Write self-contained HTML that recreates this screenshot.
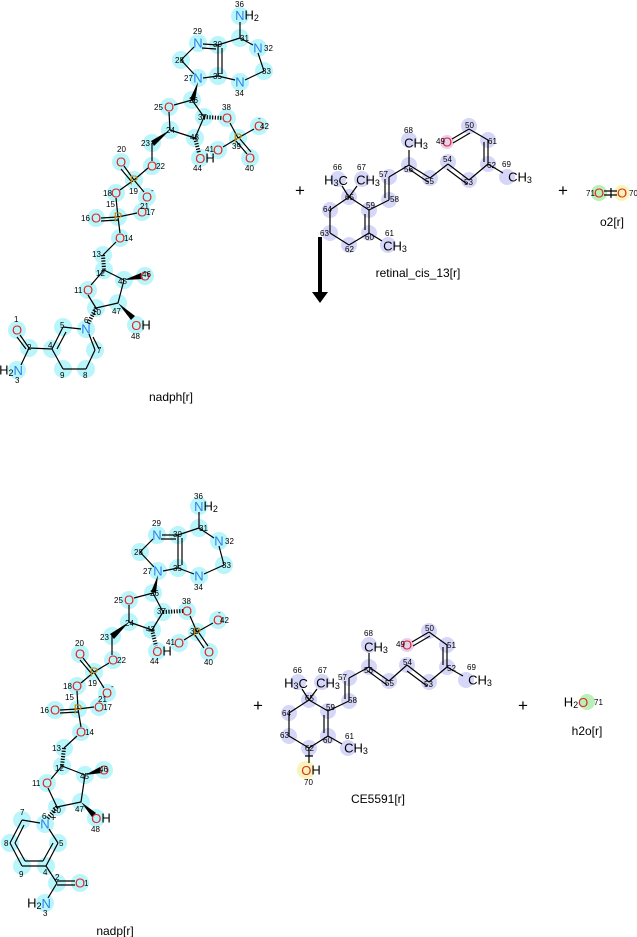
<!DOCTYPE html>
<html><head><meta charset="utf-8"><style>
html,body{margin:0;padding:0;background:#fff;width:637px;height:937px;overflow:hidden}
svg{display:block}
.b{stroke:#000;stroke-width:1.2;fill:none}
.hb{stroke:#000;stroke-width:4px;stroke-dasharray:1.2 1.5;fill:none}
.c{fill:#b8f6fb}
.l{fill:#d6d6f8}
text{font-family:"Liberation Sans","DejaVu Sans",sans-serif}
.e{font-size:13px;text-anchor:middle;dominant-baseline:central}
.s{font-size:8px;fill:#000}
.N{fill:#2d7ff0}.O{fill:#e02828}.P{fill:#c88a10}
.lab{font-size:12px;text-anchor:middle;fill:#000}
.pl{font-size:17px;text-anchor:middle;fill:#000}
</style></head><body>
<svg width="637" height="937" viewBox="0 0 637 937" xmlns="http://www.w3.org/2000/svg">
<!-- ===== NADPH top ===== -->
<g>
<g class="c">
<circle cx="240" cy="16" r="9"/><circle cx="240" cy="38" r="9"/><circle cx="218" cy="45" r="9"/><circle cx="198" cy="43" r="9"/><circle cx="181" cy="60" r="9"/><circle cx="198" cy="78" r="9"/><circle cx="218" cy="76" r="9"/><circle cx="258" cy="48" r="9"/><circle cx="264" cy="71" r="9"/><circle cx="240" cy="82" r="9"/><circle cx="192" cy="100" r="9"/><circle cx="169" cy="107" r="9"/><circle cx="204" cy="117" r="9"/><circle cx="227" cy="118" r="9"/><circle cx="238" cy="138" r="9"/><circle cx="259" cy="126" r="9"/><circle cx="250" cy="158" r="9"/><circle cx="218" cy="150" r="9"/><circle cx="170" cy="130" r="9"/><circle cx="195" cy="138" r="9"/><circle cx="200" cy="158" r="9"/><circle cx="152" cy="143" r="9"/><circle cx="152" cy="166" r="9"/><circle cx="134" cy="180" r="9"/><circle cx="121" cy="162" r="9"/><circle cx="147" cy="197" r="9"/><circle cx="116" cy="193" r="9"/><circle cx="118" cy="217" r="9"/><circle cx="96" cy="218" r="9"/><circle cx="142" cy="212" r="9"/><circle cx="120" cy="238" r="9"/><circle cx="103" cy="255" r="9"/><circle cx="104" cy="270" r="9"/><circle cx="124" cy="280" r="9"/><circle cx="145" cy="276" r="9"/><circle cx="88" cy="290" r="9"/><circle cx="96" cy="308" r="9"/><circle cx="118" cy="303" r="9"/><circle cx="136" cy="325" r="9"/><circle cx="17" cy="330" r="9"/><circle cx="29" cy="348" r="9"/><circle cx="52" cy="349" r="9"/><circle cx="17" cy="370" r="9"/><circle cx="63" cy="369" r="9"/><circle cx="86" cy="369" r="9"/><circle cx="63" cy="327" r="9"/><circle cx="86" cy="329" r="9"/><circle cx="95" cy="350" r="9"/>
</g>
<path class="b" d="M240 22V38 M240 38L218 45 M240 38L253 45 M258 53L264 71 M264 71L245 80 M235 80L218 76 M218 76L218 45 M222 74L222 48 M218 45L203 44 M216 49L202 48 M194 47L181 60 M181 60L194 74 M203 78L218 76
M174 105L192 100 M192 100L204 117 M204 117L195 138 M195 138L170 130 M170 130L169 112 M230 123L238 138 M238 138L254 129 M238 138L223 147 M236 141L247 154 M240 139L251 152
M152 143V161 M148 168L134 180 M134 180L124 166 M131 181L121 169 M134 180L144 192 M134 180L120 190 M116 198L118 217 M118 217L101 218 M118 220L101 221 M118 217L137 213 M118 217L120 233 M116 242L103 255
M104 270L91 285 M88 295L96 308 M96 308L118 303 M118 303L124 280 M124 280L104 270
M63 327L81 329 M89 334L95 350 M93 337L99 349 M95 350L86 369 M86 369L63 369 M63 369L52 349 M52 349L63 327 M57 349L66 332 M52 349L29 348 M29 348L20 335 M26 349L17 337 M29 348L21 365"/>
<g fill="#000">
<polygon points="198,82 190,99 195,101"/><polygon points="170,130 151,141 154,146"/><polygon points="124,280 141,273 143,279"/><polygon points="118,303 131,320 135,316"/>
</g>
<path class="hb" d="M204 117L223 118 M195 138L199 153 M103 255L104 270 M96 308L88 324"/>
<g class="e">
<text x="247" y="15" fill="#000"><tspan class="N">N</tspan>H<tspan font-size="9" dy="3">2</tspan></text>
<text x="198" y="43" class="N">N</text><text x="258" y="48" class="N">N</text><text x="198" y="78" class="N">N</text><text x="240" y="82" class="N">N</text>
<text x="169" y="107" class="O">O</text><text x="227" y="118" class="O">O</text><text x="259" y="126" class="O">O</text><text x="250" y="158" class="O">O</text><text x="218" y="150" class="O">O</text>
<text x="238" y="138" class="P">P</text>
<text x="205" y="158"><tspan class="O">O</tspan>H</text>
<text x="152" y="166" class="O">O</text><text x="121" y="162" class="O">O</text><text x="147" y="197" class="O">O</text><text x="116" y="193" class="O">O</text><text x="134" y="180" class="P">P</text>
<text x="118" y="217" class="P">P</text><text x="96" y="218" class="O">O</text><text x="142" y="212" class="O">O</text><text x="120" y="238" class="O">O</text>
<text x="88" y="290" class="O">O</text><text x="145" y="276" class="O">O</text><text x="141" y="325"><tspan class="O">O</tspan>H</text>
<text x="86" y="329" class="N">N</text><text x="17" y="330" class="O">O</text>
<text x="11" y="370">H<tspan font-size="9" dy="3">2</tspan><tspan class="N" dy="-3">N</tspan></text>
</g>
<g class="s">
<text x="235" y="7">36</text><text x="240" y="41">31</text><text x="193" y="34">29</text><text x="213" y="47">30</text><text x="264" y="51">32</text><text x="175" y="63">28</text><text x="262" y="74">33</text><text x="184" y="81">27</text><text x="213" y="79">35</text><text x="235" y="96">34</text><text x="189" y="103">26</text><text x="154" y="110">25</text><text x="198" y="120">37</text><text x="222" y="110">38</text><text x="260" y="129">42</text><text x="258" y="121">-</text><text x="166" y="133">24</text><text x="190" y="140">43</text><text x="232" y="149">39</text><text x="205" y="152">41</text><text x="245" y="171">40</text><text x="193" y="171">44</text><text x="141" y="146">23</text><text x="156" y="169">22</text><text x="117" y="152">20</text><text x="129" y="194">19</text><text x="151" y="193">-</text><text x="103" y="196">18</text><text x="106" y="207">15</text><text x="81" y="221">16</text><text x="146" y="215">17</text><text x="140" y="209">21</text><text x="124" y="241">14</text><text x="92" y="257">13</text><text x="96" y="276">12</text><text x="118" y="284">45</text><text x="142" y="277">46</text><text x="74" y="293">11</text><text x="92" y="315">10</text><text x="112" y="314">47</text><text x="131" y="339">48</text><text x="84" y="323">6</text><text x="60" y="328">5</text><text x="97" y="353">7</text><text x="83" y="378">8</text><text x="60" y="378">9</text><text x="48" y="348">4</text><text x="27" y="350">2</text><text x="14" y="322">1</text><text x="15" y="383">3</text>
</g>
<text x="171" y="401" class="lab">nadph[r]</text>
</g>

<!-- plus signs & arrow -->
<text x="300" y="196" class="pl">+</text><text x="563" y="196" class="pl">+</text><text x="258" y="711" class="pl">+</text><text x="523" y="711" class="pl">+</text>
<rect x="318" y="237" width="4" height="56" fill="#000"/><polygon points="312,292 328,292 320,303" fill="#000"/>

<!-- ===== retinal top ===== -->
<g>
<g class="l">
<circle cx="469" cy="126" r="8"/><circle cx="488" cy="140" r="8"/><circle cx="409" cy="140" r="8"/><circle cx="409" cy="165" r="8"/><circle cx="448" cy="162" r="8"/><circle cx="488" cy="164" r="8"/><circle cx="507" cy="177" r="8"/><circle cx="430" cy="178" r="8"/><circle cx="469" cy="180" r="8"/><circle cx="389" cy="177" r="8"/><circle cx="349" cy="197" r="8"/><circle cx="338" cy="179" r="8"/><circle cx="362" cy="179" r="8"/><circle cx="389" cy="200" r="8"/><circle cx="369" cy="210" r="8"/><circle cx="330" cy="210" r="8"/><circle cx="330" cy="233" r="8"/><circle cx="369" cy="233" r="8"/><circle cx="349" cy="245" r="8"/><circle cx="388" cy="245" r="8"/>
</g>
<circle cx="447" cy="142" r="7" fill="#e6d0f0"/>
<path class="b" d="M452 139L469 129 M453 143L470 133 M469 129L488 140 M488 140V164 M484 142V162 M488 164L469 180 M469 180L448 164 M467 184L447 169 M448 164L430 178 M430 178L409 165 M428 182L409 169 M409 165V150 M409 165L389 177 M389 177V200 M385 179V198 M389 200L369 210 M488 164L503 173
M369 210L349 197 M349 197L330 210 M330 210V233 M330 233L349 245 M349 245L369 233 M369 233V210 M365 230V214 M369 233L382 241 M349 197L342 186 M349 197L357 186"/>
<g class="e">
<text x="447" y="142" class="O">O</text>
<text x="416" y="143">CH<tspan font-size="9" dy="3">3</tspan></text>
<text x="520" y="177">CH<tspan font-size="9" dy="3">3</tspan></text>
<text x="336" y="180">H<tspan font-size="9" dy="3">3</tspan><tspan dy="-3">C</tspan></text>
<text x="368" y="180">CH<tspan font-size="9" dy="3">3</tspan></text>
<text x="395" y="246">CH<tspan font-size="9" dy="3">3</tspan></text>
</g>
<g class="s">
<text x="465" y="128">50</text><text x="488" y="144">61</text><text x="404" y="133">68</text><text x="436" y="144">49</text><text x="404" y="172">56</text><text x="443" y="162">54</text><text x="487" y="168">62</text><text x="502" y="167">69</text><text x="425" y="184">55</text><text x="464" y="185">53</text><text x="379" y="177">57</text><text x="345" y="200">65</text><text x="333" y="170">66</text><text x="357" y="170">67</text><text x="390" y="202">58</text><text x="366" y="208">59</text><text x="323" y="212">64</text><text x="320" y="236">63</text><text x="365" y="240">60</text><text x="345" y="252">62</text><text x="385" y="236">61</text>
</g>
<text x="418" y="277" class="lab">retinal_cis_13[r]</text>
</g>

<!-- O2 -->
<circle cx="599" cy="193" r="8" fill="#b8f0b8"/><circle cx="622" cy="193" r="8" fill="#f8f4b8"/>
<path class="b" d="M604 191H617 M604 195H617 M611 188V198"/>
<g class="e"><text x="599" y="193" class="O">O</text><text x="622" y="193" class="O">O</text></g>
<g class="s"><text x="586" y="196">71</text><text x="629" y="196">70</text></g>
<text x="612" y="226" class="lab">o2[r]</text>

<!-- ===== NADP bottom ===== -->
<g>
<g class="c">
<circle cx="199" cy="506" r="9"/><circle cx="199" cy="528" r="9"/><circle cx="178" cy="535" r="9"/><circle cx="157" cy="535" r="9"/><circle cx="140" cy="552" r="9"/><circle cx="158" cy="571" r="9"/><circle cx="178" cy="568" r="9"/><circle cx="219" cy="541" r="9"/><circle cx="224" cy="565" r="9"/><circle cx="199" cy="576" r="9"/><circle cx="153" cy="593" r="9"/><circle cx="129" cy="600" r="9"/><circle cx="163" cy="612" r="9"/><circle cx="187" cy="611" r="9"/><circle cx="197" cy="632" r="9"/><circle cx="218" cy="620" r="9"/><circle cx="209" cy="652" r="9"/><circle cx="179" cy="643" r="9"/><circle cx="129" cy="622" r="9"/><circle cx="152" cy="630" r="9"/><circle cx="157" cy="651" r="9"/><circle cx="112" cy="636" r="9"/><circle cx="113" cy="660" r="9"/><circle cx="94" cy="672" r="9"/><circle cx="80" cy="654" r="9"/><circle cx="107" cy="693" r="9"/><circle cx="77" cy="686" r="9"/><circle cx="78" cy="709" r="9"/><circle cx="55" cy="710" r="9"/><circle cx="99" cy="707" r="9"/><circle cx="81" cy="732" r="9"/><circle cx="64" cy="748" r="9"/><circle cx="62" cy="766" r="9"/><circle cx="85" cy="775" r="9"/><circle cx="104" cy="770" r="9"/><circle cx="47" cy="783" r="9"/><circle cx="57" cy="807" r="9"/><circle cx="81" cy="802" r="9"/><circle cx="96" cy="818" r="9"/><circle cx="45" cy="824" r="9"/><circle cx="22" cy="820" r="9"/><circle cx="58" cy="843" r="9"/><circle cx="10" cy="843" r="9"/><circle cx="22" cy="866" r="9"/><circle cx="46" cy="866" r="9"/><circle cx="57" cy="883" r="9"/><circle cx="80" cy="883" r="9"/><circle cx="45" cy="903" r="9"/>
</g>
<path class="b" d="M199 512V528 M199 528L178 535 M199 528L214 538 M219 546L224 565 M224 565L204 574 M194 574L178 568 M178 568V535 M182 565V538 M178 535L162 535 M176 539L161 539 M153 539L140 552 M140 552L154 567 M163 571L178 568
M134 598L153 593 M153 593L163 612 M163 612L152 630 M152 630L129 622 M129 622L129 605 M190 616L197 632 M197 632L213 623 M197 632L184 640 M195 635L204 648 M199 633L208 646
M112 636V655 M109 663L94 672 M94 672L83 658 M91 673L80 660 M94 672L104 688 M94 672L81 683 M77 691L78 709 M78 709L60 710 M78 712L60 713 M78 709L94 707 M78 709L81 727 M77 736L64 748
M62 766L51 779 M48 788L57 807 M57 807L81 802 M81 802L85 775 M85 775L62 766
M22 820L40 823 M49 829L58 843 M58 843L46 866 M46 866L22 866 M22 866L10 843 M10 843L22 820 M24 825L15 843 M15 843L25 861 M25 861L43 861 M43 861L53 843 M46 866L57 883 M57 881H75 M57 885H75 M57 883L48 898"/>
<g fill="#000">
<polygon points="158,575 151,592 156,593"/><polygon points="129,622 110,634 114,639"/><polygon points="85,775 100,767 102,773"/><polygon points="81,802 92,817 96,813"/>
</g>
<path class="hb" d="M163 612L183 611 M152 630L156 646 M64 748L62 766 M57 807L47 819"/>
<g class="e">
<text x="206" y="506" fill="#000"><tspan class="N">N</tspan>H<tspan font-size="9" dy="3">2</tspan></text>
<text x="157" y="535" class="N">N</text><text x="219" y="541" class="N">N</text><text x="158" y="571" class="N">N</text><text x="199" y="576" class="N">N</text>
<text x="129" y="600" class="O">O</text><text x="187" y="611" class="O">O</text><text x="218" y="620" class="O">O</text><text x="209" y="652" class="O">O</text><text x="179" y="643" class="O">O</text>
<text x="197" y="632" class="P">P</text>
<text x="162" y="651"><tspan class="O">O</tspan>H</text>
<text x="113" y="660" class="O">O</text><text x="80" y="654" class="O">O</text><text x="107" y="693" class="O">O</text><text x="77" y="686" class="O">O</text><text x="94" y="672" class="P">P</text>
<text x="78" y="709" class="P">P</text><text x="55" y="710" class="O">O</text><text x="99" y="707" class="O">O</text><text x="81" y="732" class="O">O</text>
<text x="47" y="783" class="O">O</text><text x="104" y="770" class="O">O</text><text x="101" y="818"><tspan class="O">O</tspan>H</text>
<text x="45" y="824" class="N">N</text><text x="80" y="883" class="O">O</text>
<text x="39" y="903">H<tspan font-size="9" dy="3">2</tspan><tspan class="N" dy="-3">N</tspan></text>
</g>
<g class="s">
<text x="194" y="499">36</text><text x="199" y="531">31</text><text x="152" y="526">29</text><text x="173" y="537">30</text><text x="225" y="544">32</text><text x="134" y="555">28</text><text x="222" y="568">33</text><text x="143" y="574">27</text><text x="173" y="571">35</text><text x="194" y="590">34</text><text x="150" y="596">26</text><text x="114" y="603">25</text><text x="157" y="614">37</text><text x="182" y="604">38</text><text x="220" y="623">42</text><text x="218" y="615">-</text><text x="125" y="626">24</text><text x="146" y="632">43</text><text x="190" y="634">39</text><text x="166" y="645">41</text><text x="204" y="665">40</text><text x="150" y="664">44</text><text x="100" y="640">23</text><text x="117" y="663">22</text><text x="75" y="646">20</text><text x="88" y="686">19</text><text x="111" y="689">-</text><text x="63" y="689">18</text><text x="65" y="700">15</text><text x="40" y="713">16</text><text x="103" y="710">17</text><text x="98" y="702">21</text><text x="85" y="735">14</text><text x="52" y="751">13</text><text x="55" y="771">12</text><text x="80" y="779">45</text><text x="99" y="772">46</text><text x="32" y="786">11</text><text x="52" y="813">10</text><text x="75" y="812">47</text><text x="91" y="832">48</text><text x="42" y="819">6</text><text x="50" y="821" font-size="11">+</text><text x="20" y="815">7</text><text x="59" y="846">5</text><text x="4" y="846">8</text><text x="19" y="877">9</text><text x="43" y="875">4</text><text x="55" y="880">2</text><text x="84" y="886">1</text><text x="43" y="916">3</text>
</g>
<text x="115" y="935" class="lab">nadp[r]</text>
</g>

<!-- ===== CE5591 bottom ===== -->
<g>
<g class="l">
<circle cx="429" cy="631" r="8"/><circle cx="447" cy="645" r="8"/><circle cx="369" cy="645" r="8"/><circle cx="369" cy="667" r="8"/><circle cx="407" cy="665" r="8"/><circle cx="447" cy="667" r="8"/><circle cx="466" cy="680" r="8"/><circle cx="389" cy="681" r="8"/><circle cx="429" cy="682" r="8"/><circle cx="349" cy="678" r="8"/><circle cx="309" cy="700" r="8"/><circle cx="298" cy="682" r="8"/><circle cx="322" cy="682" r="8"/><circle cx="349" cy="701" r="8"/><circle cx="328" cy="711" r="8"/><circle cx="289" cy="713" r="8"/><circle cx="289" cy="736" r="8"/><circle cx="328" cy="736" r="8"/><circle cx="309" cy="748" r="8"/><circle cx="348" cy="748" r="8"/>
</g>
<circle cx="407" cy="645" r="7" fill="#e6d0f0"/>
<circle cx="306" cy="770" r="9" fill="#f8f4b8"/>
<path class="b" d="M412 642L429 632 M413 646L430 636 M429 632L447 645 M447 645V667 M443 647V665 M447 667L429 682 M429 682L407 665 M427 686L407 671 M407 665L389 681 M389 681L369 667 M387 685L368 671 M369 667V653 M369 667L349 678 M349 678V701 M345 681V699 M349 701L328 711 M447 667L463 676
M328 711L309 700 M309 700L289 713 M289 713V736 M289 736L309 748 M309 748L328 736 M328 736V711 M324 733V715 M328 736L342 744 M309 700L302 689 M309 700L317 689 M309 748V763 M305 756H313"/>
<g class="e">
<text x="407" y="645" class="O">O</text>
<text x="376" y="647">CH<tspan font-size="9" dy="3">3</tspan></text>
<text x="480" y="680">CH<tspan font-size="9" dy="3">3</tspan></text>
<text x="296" y="683">H<tspan font-size="9" dy="3">3</tspan><tspan dy="-3">C</tspan></text>
<text x="328" y="683">CH<tspan font-size="9" dy="3">3</tspan></text>
<text x="356" y="748">CH<tspan font-size="9" dy="3">3</tspan></text>
<text x="311" y="770"><tspan class="O">O</tspan>H</text>
</g>
<g class="s">
<text x="425" y="631">50</text><text x="447" y="648">51</text><text x="364" y="636">68</text><text x="396" y="647">49</text><text x="364" y="673">56</text><text x="403" y="665">54</text><text x="447" y="671">52</text><text x="467" y="670">69</text><text x="385" y="686">55</text><text x="424" y="687">53</text><text x="338" y="680">57</text><text x="305" y="701">65</text><text x="293" y="673">66</text><text x="318" y="673">67</text><text x="348" y="703">58</text><text x="326" y="710">59</text><text x="282" y="716">64</text><text x="280" y="738">63</text><text x="323" y="743">60</text><text x="305" y="751">62</text><text x="345" y="739">61</text><text x="304" y="785">70</text>
</g>
<text x="378" y="803" class="lab">CE5591[r]</text>
</g>

<!-- H2O -->
<circle cx="587" cy="702" r="8" fill="#b8f0b8"/>
<g class="e"><text x="576" y="702">H<tspan font-size="9" dy="3">2</tspan><tspan class="O" dy="-3">O</tspan></text></g>
<text x="594" y="705" class="s">71</text>
<text x="587" y="735" class="lab">h2o[r]</text>
</svg>
</body></html>
